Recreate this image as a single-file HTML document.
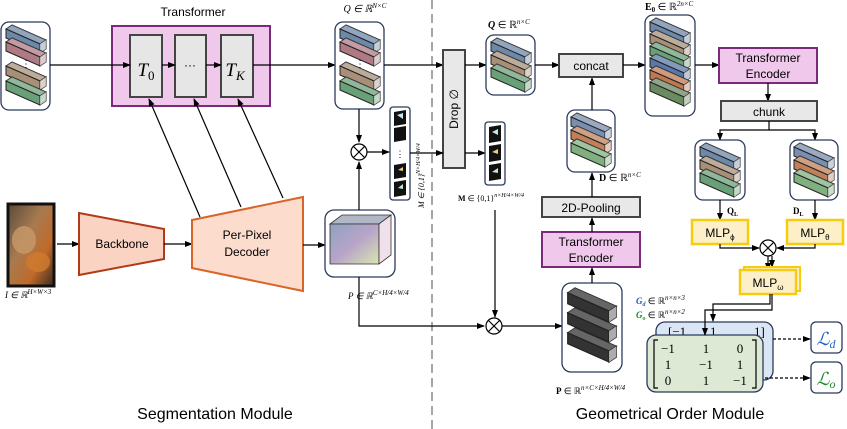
<!DOCTYPE html>
<html><head><meta charset="utf-8"><style>
html,body{margin:0;padding:0;background:#fff;}
svg{display:block;}
.s{font-family:"Liberation Sans",sans-serif;}
.m{font-family:"Liberation Serif",serif;font-style:italic;}
.r{font-family:"Liberation Serif",serif;}
</style></head><body>
<svg width="847" height="429" viewBox="0 0 847 429" xmlns="http://www.w3.org/2000/svg">
<defs>
<marker id="a" markerWidth="8" markerHeight="8" refX="7" refY="4" orient="auto" markerUnits="userSpaceOnUse"><path d="M0,1 L8,4 L0,7 z" fill="#000"/></marker>
<symbol id="bar" viewBox="0 0 40 28" overflow="visible">
<polygon points="0,4 6,0 40,15 34,19" stroke="#222" stroke-width="1"/>
<polygon points="0,4 6,0 40,15 34,19" fill="#fff" opacity="0.25"/>
<polygon points="0,4 34,19 34,28 0,13" stroke="#222" stroke-width="1"/>
<polygon points="34,19 40,15 40,24 34,28" stroke="#222" stroke-width="1"/>
<polygon points="34,19 40,15 40,24 34,28" fill="#fff" opacity="0.6"/>
</symbol>
<linearGradient id="cube" x1="0" y1="0" x2="1" y2="1"><stop offset="0" stop-color="#8fa3c0"/><stop offset="0.5" stop-color="#b7a4c8"/><stop offset="1" stop-color="#d9e6b0"/></linearGradient>
<linearGradient id="img" x1="0" y1="0" x2="1" y2="1"><stop offset="0" stop-color="#5a4a3a"/><stop offset="0.4" stop-color="#a77a50"/><stop offset="0.7" stop-color="#c06a2a"/><stop offset="1" stop-color="#3a2a20"/></linearGradient>
</defs>

<line x1="432" y1="0" x2="432" y2="429" stroke="#777" stroke-width="1.3" stroke-dasharray="9,5"/>

<rect x="1" y="22" width="49" height="88" rx="8" fill="#fff" stroke="#2b3a5c" stroke-width="1.3"/>
<use href="#bar" x="6" y="25" width="40" height="28" fill="#6d88a8"/>
<use href="#bar" x="6" y="38" width="40" height="28" fill="#b07a85"/>
<use href="#bar" x="6" y="62" width="40" height="28" fill="#a89078"/>
<use href="#bar" x="6" y="77" width="40" height="28" fill="#6aa078"/>
<text x="26" y="67" class="s" font-size="10" text-anchor="middle">⋮</text>

<text x="193" y="16" class="s" font-size="12" text-anchor="middle">Transformer</text>
<rect x="112" y="26" width="158" height="80" fill="#f0c8ec" stroke="#7a2a7a" stroke-width="2"/>
<rect x="130" y="35" width="32" height="62" fill="#e6e6e6" stroke="#444" stroke-width="2"/>
<rect x="175" y="35" width="31" height="62" fill="#e6e6e6" stroke="#444" stroke-width="2"/>
<rect x="221" y="35" width="32" height="62" fill="#e6e6e6" stroke="#444" stroke-width="2"/>
<text x="146" y="76" class="m" font-size="19" text-anchor="middle">T<tspan font-size="13" font-style="normal" dy="4">0</tspan></text>
<text x="190" y="69" class="s" font-size="12" text-anchor="middle">···</text>
<text x="235" y="76" class="m" font-size="19" text-anchor="middle">T<tspan font-size="13" dy="4">K</tspan></text>
<line x1="50" y1="65" x2="130" y2="65" stroke="#000" stroke-width="1.2" marker-end="url(#a)"/>
<line x1="162" y1="65" x2="175" y2="65" stroke="#000" stroke-width="1.2" marker-end="url(#a)"/>
<line x1="206" y1="65" x2="221" y2="65" stroke="#000" stroke-width="1.2" marker-end="url(#a)"/>
<line x1="253" y1="65" x2="335" y2="65" stroke="#000" stroke-width="1.2" marker-end="url(#a)"/>

<text x="365" y="12" class="m" font-size="10" text-anchor="middle">Q ∈ ℝ<tspan font-size="7" dy="-4">N×C</tspan></text>
<rect x="335" y="22" width="49" height="87" rx="8" fill="#fff" stroke="#2b3a5c" stroke-width="1.3"/>
<use href="#bar" x="340" y="25" width="40" height="28" fill="#6d88a8"/>
<use href="#bar" x="340" y="38" width="40" height="28" fill="#b07a85"/>
<use href="#bar" x="340" y="62" width="40" height="28" fill="#a89078"/>
<use href="#bar" x="340" y="77" width="40" height="28" fill="#6aa078"/>
<text x="360" y="67" class="s" font-size="10" text-anchor="middle">⋮</text>
<line x1="384" y1="65" x2="443" y2="65" stroke="#000" stroke-width="1.2" marker-end="url(#a)"/>

<line x1="200" y1="217" x2="149" y2="99" stroke="#000" stroke-width="1.2" marker-end="url(#a)"/>
<line x1="241" y1="207" x2="194" y2="99" stroke="#000" stroke-width="1.2" marker-end="url(#a)"/>
<line x1="283" y1="198" x2="238" y2="99" stroke="#000" stroke-width="1.2" marker-end="url(#a)"/>

<rect x="8" y="204" width="46" height="82" fill="url(#img)" stroke="#111" stroke-width="3"/>
<ellipse cx="24" cy="240" rx="12" ry="14" fill="#c79a6a" opacity="0.8"/>
<ellipse cx="38" cy="262" rx="12" ry="10" fill="#d07a30" opacity="0.8"/>
<text x="5" y="298" class="m" font-size="9">I ∈ ℝ<tspan font-size="7" dy="-4">H×W×3</tspan></text>
<line x1="57" y1="244" x2="79" y2="244" stroke="#000" stroke-width="1.2" marker-end="url(#a)"/>

<polygon points="79,213 164,229 164,259 79,275" fill="#fbd3c3" stroke="#b23a18" stroke-width="2"/>
<text x="122" y="248" class="s" font-size="12" text-anchor="middle">Backbone</text>
<line x1="164" y1="244" x2="192" y2="244" stroke="#000" stroke-width="1.2" marker-end="url(#a)"/>

<polygon points="192,220 303,197 303,291 192,268" fill="#fbdccd" stroke="#d8642a" stroke-width="2"/>
<text x="247" y="239" class="s" font-size="12" text-anchor="middle">Per-Pixel</text>
<text x="247" y="256" class="s" font-size="12" text-anchor="middle">Decoder</text>
<line x1="303" y1="245" x2="325" y2="245" stroke="#000" stroke-width="1.2" marker-end="url(#a)"/>

<rect x="325" y="210" width="70" height="67" rx="9" fill="#fff" stroke="#2b3a5c" stroke-width="1.3"/>
<polygon points="330,224 342,215 391,215 379,224" fill="#b0b8c8" stroke="#333" stroke-width="0.8"/>
<polygon points="330,224 379,224 379,264 330,264" fill="url(#cube)" stroke="#333" stroke-width="0.8"/>
<polygon points="379,224 391,215 391,255 379,264" fill="#f0e0ea" stroke="#333" stroke-width="0.8"/>
<text x="348" y="299" class="m" font-size="9">P ∈ ℝ<tspan font-size="7" dy="-4">C×H/4×W/4</tspan></text>

<line x1="359" y1="109" x2="359" y2="142" stroke="#000" stroke-width="1.2" marker-end="url(#a)"/>
<line x1="359" y1="210" x2="359" y2="162" stroke="#000" stroke-width="1.2" marker-end="url(#a)"/>
<circle cx="359" cy="152" r="8" fill="#fff" stroke="#000" stroke-width="1.2"/>
<path d="M353.5,146.5 L364.5,157.5 M364.5,146.5 L353.5,157.5" stroke="#000" stroke-width="1.2"/>
<line x1="367" y1="152" x2="389" y2="152" stroke="#000" stroke-width="1.2" marker-end="url(#a)"/>
<polyline points="359,277 359,326 484,326" fill="none" stroke="#000" stroke-width="1.2" marker-end="url(#a)"/>

<rect x="390" y="107" width="20" height="93" rx="3" fill="#fff" stroke="#2b3a5c" stroke-width="1.3"/>
<polygon points="394,112 406,110 406,124 394,126" fill="#111"/>
<polygon points="394,128 406,126 406,140 394,142" fill="#111"/>
<text x="400" y="157" class="s" font-size="9" text-anchor="middle">⋮</text>
<polygon points="394,165 406,163 406,177 394,179" fill="#111"/>
<polygon points="394,182 406,180 406,195 394,197" fill="#111"/>
<path d="M397,115 l6,-2 l0,6 z" fill="#bfe8f0"/>
<path d="M398,170 l5,-3 l0,4 z" fill="#e8d080"/>
<path d="M398,188 l5,-4 l0,5 z" fill="#bfe8d0"/>
<text transform="translate(424,208) rotate(-90)" class="m" font-size="8">M ∈ {0,1}<tspan font-size="6" dy="-4">N×H/4×W/4</tspan></text>

<rect x="443" y="50" width="22" height="118" fill="#e8e8e8" stroke="#444" stroke-width="2"/>
<text transform="translate(458,109) rotate(-90)" class="s" font-size="12" text-anchor="middle">Drop ∅</text>
<line x1="410" y1="153" x2="443" y2="153" stroke="#000" stroke-width="1.2" marker-end="url(#a)"/>
<line x1="465" y1="65" x2="486" y2="65" stroke="#000" stroke-width="1.2" marker-end="url(#a)"/>
<line x1="465" y1="153" x2="485" y2="153" stroke="#000" stroke-width="1.2" marker-end="url(#a)"/>

<text x="488" y="28" class="r" font-size="10"><tspan font-weight="bold" font-style="italic">Q</tspan> ∈ ℝ<tspan font-size="7" dy="-4" font-style="italic">n×C</tspan></text>
<rect x="486" y="35" width="49" height="60" rx="8" fill="#fff" stroke="#2b3a5c" stroke-width="1.3"/>
<use href="#bar" x="491" y="38" width="40" height="28" fill="#6d88a8"/>
<use href="#bar" x="491" y="51" width="40" height="28" fill="#a89078"/>
<use href="#bar" x="491" y="64" width="40" height="28" fill="#6aa078"/>
<line x1="535" y1="65" x2="559" y2="65" stroke="#000" stroke-width="1.2" marker-end="url(#a)"/>

<rect x="485" y="122" width="20" height="63" rx="3" fill="#fff" stroke="#2b3a5c" stroke-width="1.3"/>
<polygon points="489,127 501,125 501,141 489,143" fill="#111"/>
<polygon points="489,146 501,144 501,160 489,162" fill="#111"/>
<polygon points="489,165 501,163 501,179 489,181" fill="#111"/>
<path d="M492,132 l6,-3 l0,6 z" fill="#bfe8f0"/>
<path d="M492,152 l6,-3 l0,5 z" fill="#e8d080"/>
<path d="M492,172 l6,-4 l0,5 z" fill="#bfe8d0"/>
<text x="458" y="201" class="r" font-size="8"><tspan font-weight="bold">M</tspan> ∈ {0,1}<tspan font-size="6" dy="-4" font-style="italic">n×H/4×W/4</tspan></text>
<line x1="495" y1="210" x2="495" y2="317" stroke="#000" stroke-width="1.2" marker-end="url(#a)"/>

<circle cx="494" cy="326" r="8" fill="#fff" stroke="#000" stroke-width="1.2"/>
<path d="M488.5,320.5 L499.5,331.5 M499.5,320.5 L488.5,331.5" stroke="#000" stroke-width="1.2"/>
<line x1="502" y1="326" x2="562" y2="326" stroke="#000" stroke-width="1.2" marker-end="url(#a)"/>

<rect x="562" y="283" width="60" height="89" rx="9" fill="#fff" stroke="#2b3a5c" stroke-width="1.3"/>
<use href="#bar" x="567" y="288" width="50" height="34" fill="#333"/>
<use href="#bar" x="567" y="308" width="50" height="34" fill="#333"/>
<use href="#bar" x="567" y="328" width="50" height="34" fill="#333"/>
<text x="556" y="394" class="r" font-size="9"><tspan font-weight="bold">P</tspan> ∈ ℝ<tspan font-size="7" dy="-4" font-style="italic">n×C×H/4×W/4</tspan></text>

<rect x="542" y="232" width="98" height="35" fill="#f0c8ec" stroke="#7a2a7a" stroke-width="2"/>
<text x="591" y="246" class="s" font-size="12" text-anchor="middle">Transformer</text>
<text x="591" y="262" class="s" font-size="12" text-anchor="middle">Encoder</text>
<line x1="592" y1="283" x2="592" y2="268" stroke="#000" stroke-width="1.2" marker-end="url(#a)"/>
<rect x="542" y="197" width="98" height="20" fill="#e8e8e8" stroke="#444" stroke-width="2"/>
<text x="591" y="212" class="s" font-size="12" text-anchor="middle">2D-Pooling</text>
<line x1="592" y1="232" x2="592" y2="218" stroke="#000" stroke-width="1.2" marker-end="url(#a)"/>
<line x1="592" y1="197" x2="592" y2="173" stroke="#000" stroke-width="1.2" marker-end="url(#a)"/>
<text x="599" y="181" class="r" font-size="10"><tspan font-weight="bold">D</tspan> ∈ ℝ<tspan font-size="7" dy="-4" font-style="italic">n×C</tspan></text>
<rect x="567" y="110" width="48" height="62" rx="8" fill="#fff" stroke="#2b3a5c" stroke-width="1.3"/>
<use href="#bar" x="571" y="113" width="40" height="28" fill="#7a8eb0"/>
<use href="#bar" x="571" y="126" width="40" height="28" fill="#c0805a"/>
<use href="#bar" x="571" y="139" width="40" height="28" fill="#80b080"/>
<line x1="592" y1="110" x2="592" y2="78" stroke="#000" stroke-width="1.2" marker-end="url(#a)"/>

<rect x="559" y="54" width="64" height="23" fill="#e8e8e8" stroke="#444" stroke-width="2"/>
<text x="591" y="70" class="s" font-size="12" text-anchor="middle">concat</text>
<line x1="623" y1="65" x2="645" y2="65" stroke="#000" stroke-width="1.2" marker-end="url(#a)"/>

<text x="645" y="10" class="r" font-size="10"><tspan font-weight="bold">E<tspan font-size="7" dy="2">0</tspan></tspan><tspan dy="-2"> ∈ ℝ</tspan><tspan font-size="7" dy="-4" font-style="italic">2n×C</tspan></text>
<rect x="645" y="15" width="50" height="101" rx="8" fill="#fff" stroke="#2b3a5c" stroke-width="1.3"/>
<use href="#bar" x="650" y="18" width="40" height="28" fill="#6d88a8"/>
<use href="#bar" x="650" y="30" width="40" height="28" fill="#a89078"/>
<use href="#bar" x="650" y="42" width="40" height="28" fill="#6aa078"/>
<use href="#bar" x="650" y="54" width="40" height="28" fill="#5a78a8"/>
<use href="#bar" x="650" y="66" width="40" height="28" fill="#c07850"/>
<use href="#bar" x="650" y="78" width="40" height="28" fill="#6a8a60"/>
<line x1="695" y1="65" x2="719" y2="65" stroke="#000" stroke-width="1.2" marker-end="url(#a)"/>

<rect x="719" y="48" width="98" height="35" fill="#f0c8ec" stroke="#7a2a7a" stroke-width="2"/>
<text x="768" y="62" class="s" font-size="12" text-anchor="middle">Transformer</text>
<text x="768" y="78" class="s" font-size="12" text-anchor="middle">Encoder</text>
<line x1="768" y1="83" x2="768" y2="101" stroke="#000" stroke-width="1.2" marker-end="url(#a)"/>
<rect x="721" y="101" width="96" height="20" fill="#e8e8e8" stroke="#444" stroke-width="2"/>
<text x="769" y="116" class="s" font-size="12" text-anchor="middle">chunk</text>
<polyline points="769,121 769,130 720,130 720,140" fill="none" stroke="#000" stroke-width="1.2" marker-end="url(#a)"/>
<polyline points="769,130 815,130 815,140" fill="none" stroke="#000" stroke-width="1.2" marker-end="url(#a)"/>

<rect x="695" y="140" width="50" height="60" rx="8" fill="#fff" stroke="#2b3a5c" stroke-width="1.3"/>
<use href="#bar" x="700" y="143" width="40" height="28" fill="#6d88a8"/>
<use href="#bar" x="700" y="156" width="40" height="28" fill="#a89078"/>
<use href="#bar" x="700" y="169" width="40" height="28" fill="#6aa078"/>
<rect x="790" y="140" width="48" height="60" rx="8" fill="#fff" stroke="#2b3a5c" stroke-width="1.3"/>
<use href="#bar" x="794" y="143" width="40" height="28" fill="#7a8eb0"/>
<use href="#bar" x="794" y="156" width="40" height="28" fill="#c0805a"/>
<use href="#bar" x="794" y="169" width="40" height="28" fill="#80b080"/>
<line x1="720" y1="200" x2="720" y2="220" stroke="#000" stroke-width="1.2" marker-end="url(#a)"/>
<line x1="815" y1="200" x2="815" y2="220" stroke="#000" stroke-width="1.2" marker-end="url(#a)"/>
<text x="727" y="214" class="r" font-size="9" font-weight="bold">Q<tspan font-size="6" dy="2">L</tspan></text>
<text x="793" y="214" class="r" font-size="9" font-weight="bold">D<tspan font-size="6" dy="2">L</tspan></text>

<rect x="692" y="220" width="56" height="24" fill="#fdf0c8" stroke="#f5cc10" stroke-width="2.5"/>
<text x="720" y="237" class="s" font-size="12" text-anchor="middle">MLP<tspan font-size="8" dy="3">ϕ</tspan></text>
<rect x="787" y="220" width="56" height="24" fill="#fdf0c8" stroke="#f5cc10" stroke-width="2.5"/>
<text x="815" y="237" class="s" font-size="12" text-anchor="middle">MLP<tspan font-size="8" dy="3">θ</tspan></text>
<polyline points="720,244 720,248 759,248" fill="none" stroke="#000" stroke-width="1.2" marker-end="url(#a)"/>
<polyline points="815,244 815,248 777,248" fill="none" stroke="#000" stroke-width="1.2" marker-end="url(#a)"/>
<circle cx="768" cy="248" r="8" fill="#fff" stroke="#000" stroke-width="1.2"/>
<path d="M762.5,242.5 L773.5,253.5 M773.5,242.5 L762.5,253.5" stroke="#000" stroke-width="1.2"/>
<line x1="768" y1="256" x2="768" y2="270" stroke="#000" stroke-width="1.2" marker-end="url(#a)"/>
<line x1="772" y1="256" x2="772" y2="267" stroke="#000" stroke-width="1.2" marker-end="url(#a)"/>
<rect x="744" y="267" width="56" height="24" fill="#fdf0c8" stroke="#f5cc10" stroke-width="2"/>
<rect x="740" y="270" width="56" height="24" fill="#fdf0c8" stroke="#f5cc10" stroke-width="2.5"/>
<text x="768" y="287" class="s" font-size="12" text-anchor="middle">MLP<tspan font-size="8" dy="3">ω</tspan></text>

<text x="636" y="304" class="r" font-size="9"><tspan fill="#1f5fc0" font-weight="bold" font-style="italic">G<tspan font-size="6" dy="2">d</tspan></tspan><tspan dy="-2"> ∈ ℝ</tspan><tspan font-size="7" dy="-4" font-style="italic">n×n×3</tspan></text>
<text x="636" y="318" class="r" font-size="9"><tspan fill="#1a8a2a" font-weight="bold" font-style="italic">G<tspan font-size="6" dy="2">o</tspan></tspan><tspan dy="-2"> ∈ ℝ</tspan><tspan font-size="7" dy="-4" font-style="italic">n×n×2</tspan></text>

<rect x="656" y="322" width="117" height="58" rx="9" fill="#dbe6f4" stroke="#2b3a5c" stroke-width="1.3"/>
<text x="668" y="336" class="r" font-size="13">[−1</text>
<text x="710" y="336" class="r" font-size="13">1</text>
<text x="754" y="336" class="r" font-size="13">1]</text>
<rect x="647" y="335" width="116" height="57" rx="9" fill="#dde9d5" stroke="#2b3a5c" stroke-width="1.3"/>
<path d="M658,340 h-4 v48 h4 M752,340 h4 v48 h-4" fill="none" stroke="#000" stroke-width="1.2"/>
<g class="r" font-size="13" text-anchor="middle">
<text x="668" y="353">−1</text><text x="706" y="353">1</text><text x="740" y="353">0</text>
<text x="668" y="369">1</text><text x="706" y="369">−1</text><text x="740" y="369">1</text>
<text x="668" y="385">0</text><text x="706" y="385">1</text><text x="740" y="385">−1</text>
</g>
<polyline points="770,294 770,304 713,304 713,321" fill="none" stroke="#000" stroke-width="1.2" marker-end="url(#a)"/>
<polyline points="772,294 772,310 705,310 705,335" fill="none" stroke="#000" stroke-width="1.2" marker-end="url(#a)"/>

<line x1="773" y1="339" x2="810" y2="339" stroke="#000" stroke-width="1.2" stroke-dasharray="3,2" marker-end="url(#a)"/>
<line x1="765" y1="378" x2="810" y2="378" stroke="#000" stroke-width="1.2" stroke-dasharray="3,2" marker-end="url(#a)"/>
<rect x="811" y="322" width="31" height="31" rx="5" fill="#fff" stroke="#2b3a5c" stroke-width="1.3"/>
<text x="826" y="345" class="m" font-size="18" fill="#1f5fc0" text-anchor="middle">ℒ<tspan font-size="12" dy="3">d</tspan></text>
<rect x="811" y="362" width="31" height="31" rx="5" fill="#fff" stroke="#2b3a5c" stroke-width="1.3"/>
<text x="826" y="385" class="m" font-size="18" fill="#1a8a2a" text-anchor="middle">ℒ<tspan font-size="12" dy="3">o</tspan></text>

<text x="215" y="419" class="s" font-size="16" text-anchor="middle">Segmentation Module</text>
<text x="670" y="419" class="s" font-size="16" text-anchor="middle">Geometrical Order Module</text>
</svg>
</body></html>
